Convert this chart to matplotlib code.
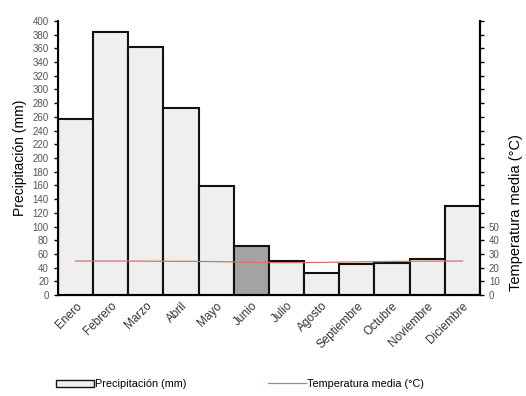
import matplotlib
matplotlib.use("Agg")
import matplotlib.pyplot as plt
from matplotlib.patches import Patch
from matplotlib.lines import Line2D

plt.rcParams['font.family'] = ['Liberation Sans', 'DejaVu Sans']

# datos mensuales
meses = ['Enero', 'Febrero', 'Marzo', 'Abril', 'Mayo', 'Junio', 'Julio',
         'Agosto', 'Septiembre', 'Octubre', 'Noviembre', 'Diciembre']
precipitacion = [257, 384, 362, 273, 159, 71, 50, 32, 45, 47, 52, 130]
temperatura = [24.8, 24.8, 24.7, 24.6, 24.4, 23.8, 23.6, 23.8, 24.2, 24.5, 24.7, 24.8]
colores = ['#efefef'] * 12
colores[5] = '#a3a3a3'

fig = plt.figure(figsize=(5.26, 3.96), dpi=100)
ax = fig.add_axes([0.110, 0.255, 0.8025, 0.692])

x = range(len(meses))
ax.bar(x, precipitacion, width=1.0, color=colores, edgecolor='#111111', linewidth=1.5, zorder=2)
ax.set_xlim(-0.5, 11.5)
ax.set_ylim(0, 400)
ax.set_yticks(range(0, 401, 20))
ax.tick_params(axis='y', labelsize=7, labelcolor='#555555', length=3, width=1)
ax.tick_params(axis='x', length=0, labelsize=8.5, labelcolor='#333333')
ax.set_xticks(list(x))
ax.set_xticklabels(meses, rotation=45, ha='right', rotation_mode='anchor')
ax.set_ylabel('Precipitación (mm)', fontsize=10, labelpad=4)
ax.spines['top'].set_visible(False)
for s in ['left', 'bottom', 'right']:
    ax.spines[s].set_linewidth(1.5)

# eje de temperatura (escala 2:1)
ax2 = ax.twinx()
ax2.set_ylim(0, 200)
ax2.set_yticks(range(0, 201, 10))
ax2.set_yticklabels([str(v) if v <= 50 else '' for v in range(0, 201, 10)])
ax2.tick_params(axis='y', labelsize=7, labelcolor='#555555', length=3, width=1)
ax2.spines['top'].set_visible(False)
ax2.spines['right'].set_linewidth(1.5)
ax2.plot(list(x), temperatura, color='#d9706f', linewidth=0.9, zorder=3)
ax2.set_ylabel('Temperatura media (°C)', fontsize=10.5)
ax2.yaxis.set_label_coords(1.068, 0.30)

handles = [Patch(facecolor='#efefef', edgecolor='#111111', linewidth=1),
           Line2D([0], [0], color='#d9706f', linewidth=0.9)]
fig.legend(handles, ['Precipitación (mm)', 'Temperatura media (°C)'],
           loc='center', bbox_to_anchor=(0.456, 0.03), ncol=2, frameon=False,
           fontsize=7.8, handlelength=3.5, handleheight=0.6, handletextpad=0.1,
           columnspacing=7.5)

fig.savefig('out.png', dpi=100)
